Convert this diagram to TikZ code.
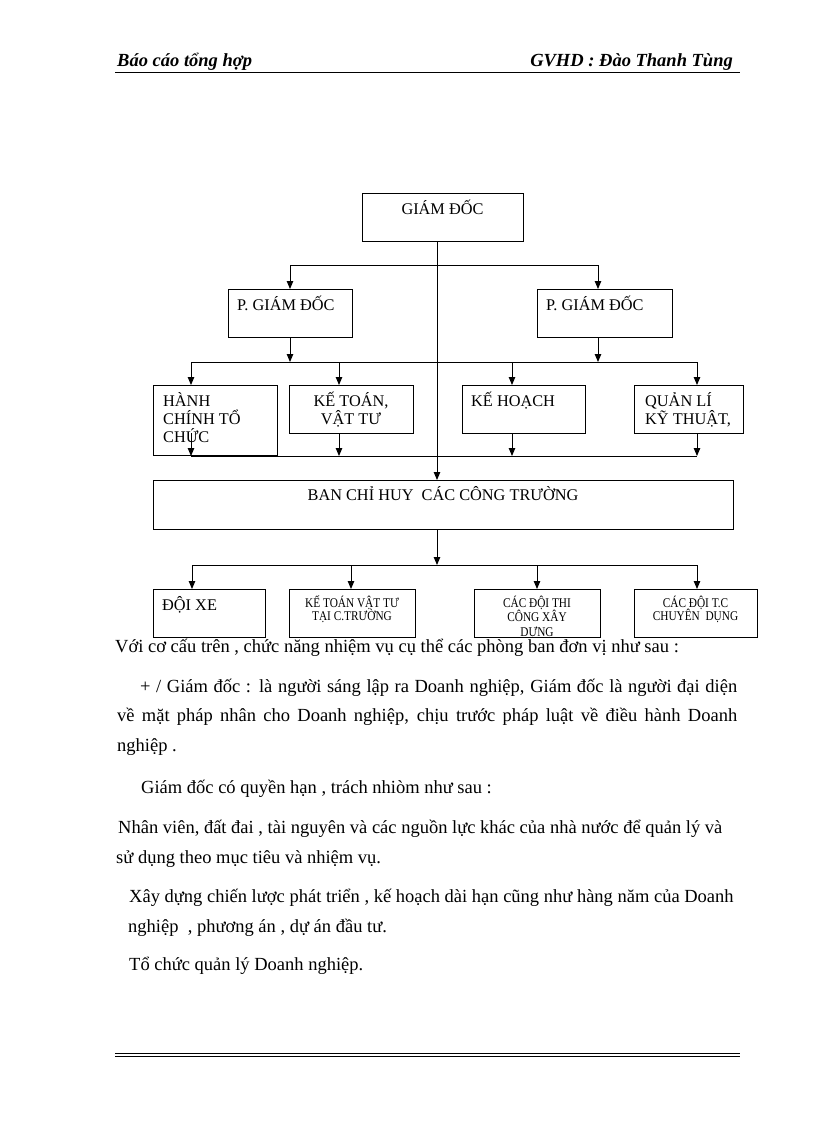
\documentclass[tikz,border=0pt]{standalone}
\usepackage{fontspec}
\setmainfont{Liberation Serif}
\newfontfamily\narrowserif[FakeStretch=0.85]{Liberation Serif}
\usetikzlibrary{arrows.meta, calc}
\newcommand{\boxstrut}{\rule{0pt}{16pt}}
\newcommand{\smallstrut}{\rule{0pt}{12pt}}
\lineskiplimit=-20pt

\begin{document}
\begin{tikzpicture}[x=1pt, y=-1pt,
    box/.style={rectangle, draw, line width=0.9pt, inner sep=0pt, outer sep=0pt, anchor=north west},
    boxtext/.style={font=\fontsize{16.3}{18}\selectfont, inner sep=0pt},
    smalltext/.style={font=\narrowserif\fontsize{13.3}{13}\selectfont, inner sep=0pt, align=center},
    bodytext/.style={font=\fontsize{18.5}{29}\selectfont, inner sep=0pt, anchor=base west},
    headtext/.style={font=\fontsize{18.5}{20}\selectfont\bfseries\itshape, inner sep=0pt},
    arrow/.style={-{Triangle[length=8pt, width=6.5pt]}, line width=0.9pt},
    busline/.style={line width=0.9pt}
]
    \useasboundingbox (0,0) rectangle (816,1123);

    % Header
    \node[headtext, anchor=base west] (headLeft) at (117,67) {Báo cáo tổng hợp};
    \node[headtext, anchor=base east] (headRight) at (733,67) {GVHD : Đào Thanh Tùng};
    \draw[line width=1.6pt] (115,72.5) -- (740,72.5);

    % Director
    \node[box, minimum width=161pt, minimum height=48pt] (gd) at (362,193) {};
    \node[boxtext, anchor=north] (gdText) at ([yshift=-5pt]gd.north) {\boxstrut GIÁM ĐỐC};

    % Deputy directors
    \node[box, minimum width=124pt, minimum height=48pt] (pgdL) at (228,289) {};
    \node[box, minimum width=135pt, minimum height=48pt] (pgdR) at (537,289) {};
    \node[boxtext, anchor=north west] (pgdLText) at ([xshift=9pt, yshift=-5pt]pgdL.north west) {\boxstrut P. GIÁM ĐỐC};
    \node[boxtext, anchor=north west] (pgdRText) at ([xshift=9pt, yshift=-5pt]pgdR.north west) {\boxstrut P. GIÁM ĐỐC};

    % Departments
    \node[box, minimum width=124pt, minimum height=70pt] (hc) at (153,385) {};
    \node[box, minimum width=124pt, minimum height=48pt] (kt) at (289,385) {};
    \node[box, minimum width=123pt, minimum height=48pt] (kh) at (462,385) {};
    \node[box, minimum width=109pt, minimum height=48pt] (ql) at (634,385) {};
    \node[boxtext, anchor=north west, align=left] (hcText) at ([xshift=10pt, yshift=-5pt]hc.north west) {\boxstrut HÀNH\\CHÍNH TỔ\\CHỨC};
    \node[boxtext, anchor=north, align=center] (ktText) at ([yshift=-5pt]kt.north) {\boxstrut KẾ TOÁN,\\VẬT TƯ};
    \node[boxtext, anchor=north west] (khText) at ([xshift=9pt, yshift=-5pt]kh.north west) {\boxstrut KẾ HOẠCH};
    \node[boxtext, anchor=north west, align=left] (qlText) at ([xshift=11pt, yshift=-5pt]ql.north west) {\boxstrut QUẢN LÍ\\KỸ THUẬT,};

    % Site command
    \node[box, minimum width=580pt, minimum height=49pt] (bch) at (153,480) {};
    \node[boxtext, anchor=north] (bchText) at ([yshift=-4pt]bch.north) {\boxstrut BAN CHỈ HUY\ \ CÁC CÔNG TRƯỜNG};

    % Teams
    \node[box, minimum width=112pt, minimum height=48pt] (dx) at (153,589) {};
    \node[box, minimum width=126pt, minimum height=48pt] (ktct) at (289,589) {};
    \node[box, minimum width=126pt, minimum height=48pt] (dtc) at (474,589) {};
    \node[box, minimum width=123pt, minimum height=48pt] (dcd) at (634,589) {};
    \node[boxtext, anchor=north west] (dxText) at ([xshift=9pt, yshift=-5pt]dx.north west) {\boxstrut ĐỘI XE};
    \node[smalltext, anchor=north] (ktctText) at ([yshift=-6pt]ktct.north) {\smallstrut KẾ TOÁN VẬT TƯ\\TẠI C.TRƯỜNG};
    \begin{scope}
        \clip ([shift={(0.5pt,-0.5pt)}]dtc.north west) rectangle ([shift={(-0.5pt,0.5pt)}]dtc.south east);
        \node[smalltext, font=\narrowserif\fontsize{13.3}{14.5}\selectfont, text depth=0pt, anchor=north] (dtcText) at ([yshift=-6pt]dtc.north) {\smallstrut CÁC ĐỘI THI\\CÔNG XÂY\\DỰNG};
    \end{scope}
    \node[smalltext, anchor=north] (dcdText) at ([yshift=-6pt]dcd.north) {\smallstrut CÁC ĐỘI T.C\\CHUYÊN\ \ DỤNG};

    % Connectors
    \coordinate (spine) at (437,241);
    \draw[arrow] (spine |- gd.south) -- (spine |- bch.north);

    \coordinate (bus1L) at (290,265);
    \coordinate (bus1R) at (598,265);
    \draw[busline] (bus1L) -- (bus1R);
    \draw[arrow] (bus1L) -- (bus1L |- pgdL.north);
    \draw[arrow] (bus1R) -- (bus1R |- pgdR.north);

    \coordinate (bus2L) at (191,362);
    \coordinate (bus2R) at (697,362);
    \draw[busline] (bus2L) -- (bus2R);
    \draw[arrow] (bus1L |- pgdL.south) -- (bus1L |- bus2L);
    \draw[arrow] (bus1R |- pgdR.south) -- (bus1R |- bus2L);
    \foreach \tap/\target in {191/hc, 339/kt, 512/kh, 697/ql}
        \draw[arrow] ({\tap},362) -- ({\tap},362 |- \target.north);

    \coordinate (bus3L) at (191,456);
    \coordinate (bus3R) at (697,456);
    \draw[busline] (bus3L) -- (bus3R);
    \foreach \tap/\src in {191/kt, 339/kt, 512/kh, 697/ql}
        \draw[arrow] ({\tap},0 |- \src.south) -- ({\tap},456);

    \coordinate (bus4L) at (192,565);
    \coordinate (bus4R) at (697,565);
    \draw[arrow] (spine |- bch.south) -- (spine |- bus4L);
    \draw[busline] (bus4L) -- (bus4R);
    \foreach \tap/\target in {192/dx, 351/ktct, 537/dtc, 697/dcd}
        \draw[arrow] ({\tap},565) -- ({\tap},565 |- \target.north);

    % Text
    \node[bodytext] (intro) at (115,652) {Với cơ cấu trên , chức năng nhiệm vụ cụ thể các phòng ban đơn vị như sau :};
    \node[bodytext] (gdLine1) at (140,692) {\makebox[597pt][s]{+ / Giám đốc : là người sáng lập ra Doanh nghiệp, Giám đốc là người đại diện}};
    \node[bodytext] (gdLine2) at (117,721) {\makebox[620pt][s]{về mặt pháp nhân cho Doanh nghiệp, chịu trước pháp luật về điều hành Doanh}};
    \node[bodytext] (gdLine3) at (117,751) {nghiệp .};
    \node[bodytext] (powers) at (141,793) {Giám đốc có quyền hạn , trách nhiòm như sau :};
    \node[bodytext] (dutyA1) at (118,833) {Nhân viên, đất đai , tài nguyên và các nguồn lực khác của nhà nước để quản lý và};
    \node[bodytext] (dutyA2) at (116,863) {sử dụng theo mục tiêu và nhiệm vụ.};
    \node[bodytext] (dutyB1) at (129,902) {Xây dựng chiến lược phát triển , kế hoạch dài hạn cũng như hàng năm của Doanh};
    \node[bodytext] (dutyB2) at (128,932) {nghiệp\ \ , phương án , dự án đầu tư.};
    \node[bodytext] (dutyC) at (129,970) {Tổ chức quản lý Doanh nghiệp.};

    % Footer
    \draw[line width=1pt] (115,1053) -- (740,1053);
    \draw[line width=1.6pt] (115,1056.5) -- (740,1056.5);
\end{tikzpicture}
\end{document}
